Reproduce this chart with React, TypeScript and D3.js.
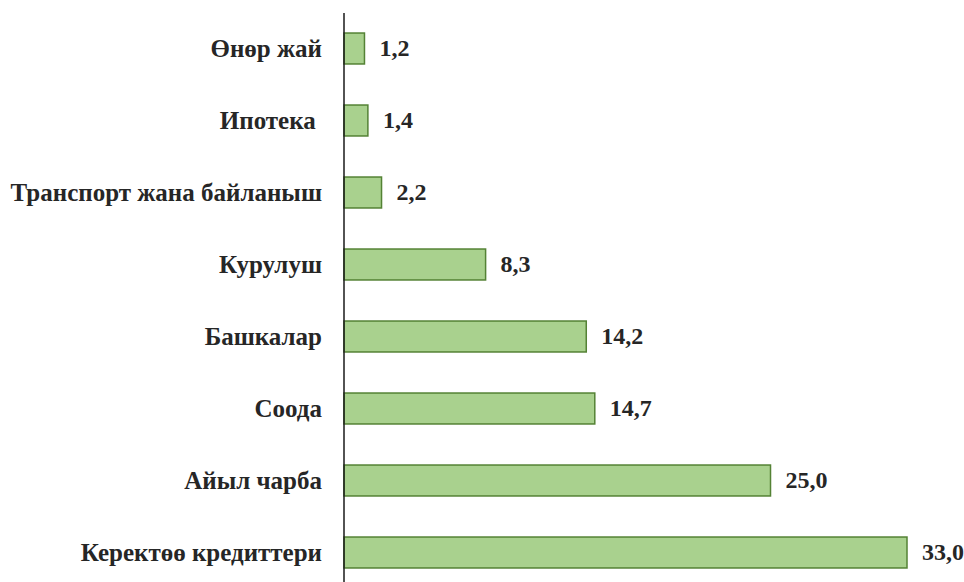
import React, { useEffect, useRef } from 'react';
import * as d3 from 'd3';

const categories = [
  'Өнөр жай',
  'Ипотека ',
  'Транспорт жана байланыш',
  'Курулуш',
  'Башкалар',
  'Соода',
  'Айыл чарба',
  'Керектөө кредиттери',
];
const values = [1.2, 1.4, 2.2, 8.3, 14.2, 14.7, 25.0, 33.0];

function App() {
  const svgRef = useRef<SVGSVGElement>(null);

  useEffect(() => {
    const svg = d3.select(svgRef.current);
    svg.selectAll('*').remove();

    const width = 964;
    const height = 582;
    const axisX = 344;

    const x = d3.scaleLinear().domain([0, 33]).range([axisX, 907]);
    const y = d3.scaleBand().domain(categories).range([12.5, 588.5]).paddingInner(0.57).paddingOuter(0.285);

    svg.attr('width', width).attr('height', height);

    const font = "'Liberation Serif', serif";

    svg.append('g')
      .selectAll('rect')
      .data(values)
      .enter()
      .append('rect')
      .attr('x', x(0))
      .attr('y', (d, i) => y(categories[i])!)
      .attr('width', d => x(d) - x(0))
      .attr('height', y.bandwidth())
      .attr('fill', '#a9d18e')
      .attr('stroke', '#548235')
      .attr('stroke-width', 1.5);

    svg.append('g')
      .selectAll('text')
      .data(values)
      .enter()
      .append('text')
      .attr('x', d => x(d) + 15)
      .attr('y', (d, i) => y(categories[i])! + y.bandwidth() / 2)
      .attr('dy', '0.33em')
      .style('font-family', font)
      .style('font-weight', 'bold')
      .style('font-size', '24px')
      .attr('fill', '#262626')
      .text(d => d3.format('.1f')(d).replace('.', ','));

    svg.append('g')
      .selectAll('text')
      .data(categories)
      .enter()
      .append('text')
      .attr('x', 322)
      .attr('y', d => y(d)! + y.bandwidth() / 2)
      .attr('dy', '0.33em')
      .attr('text-anchor', 'end')
      .style('white-space', 'pre')
      .style('font-family', font)
      .style('font-weight', 'bold')
      .style('font-size', '25px')
      .attr('fill', '#262626')
      .text(d => d);

    svg.append('line')
      .attr('x1', axisX)
      .attr('x2', axisX)
      .attr('y1', 13)
      .attr('y2', height)
      .attr('stroke', '#1a1a1a')
      .attr('stroke-width', 1.5);
  }, []);

  return (
    <div style={{ position: 'absolute', left: 0, top: 0 }}>
      <svg ref={svgRef} style={{ display: 'block' }}></svg>
    </div>
  );
}

export default App;
